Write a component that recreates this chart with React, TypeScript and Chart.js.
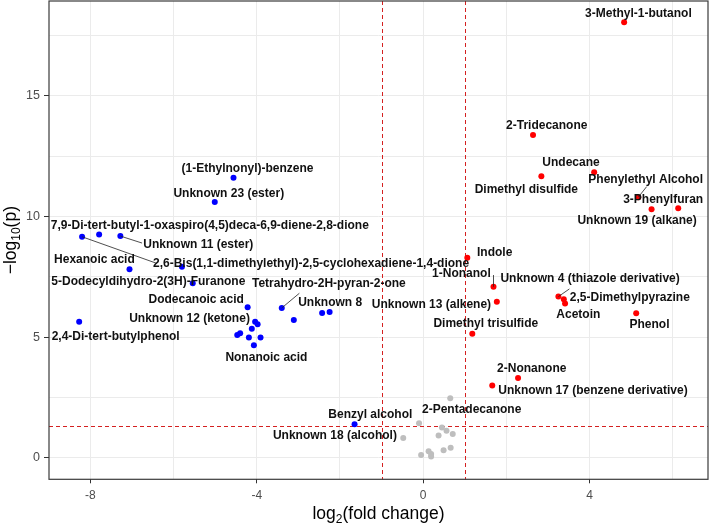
import React, { useEffect, useRef } from 'react';
import { Chart, registerables } from 'chart.js';

Chart.register(...registerables);

// ---- Data: log2(fold change) and -log10(p) ----
const downX = [-4.56, -5.01, -8.2, -7.79, -7.28, -7.06, -5.8, -5.54, -4.22, -3.4, -3.11, -2.43, -2.25, -4.04, -3.98, -4.12, -4.4, -4.47, -4.19, -3.91, -4.07, -8.27, -1.65];
const downY = [11.61, 10.6, 9.16, 9.25, 9.19, 7.81, 7.92, 7.23, 6.24, 6.21, 5.71, 6.0, 6.04, 5.64, 5.53, 5.35, 5.16, 5.09, 4.99, 4.99, 4.66, 5.64, 1.39];
const downNames = [
  '(1-Ethylnonyl)-benzene',
  'Unknown 23 (ester)',
  '2,6-Bis(1,1-dimethylethyl)-2,5-cyclohexadiene-1,4-dione',
  '7,9-Di-tert-butyl-1-oxaspiro(4,5)deca-6,9-diene-2,8-dione',
  'Unknown 11 (ester)',
  'Hexanoic acid',
  '',
  '5-Dodecyldihydro-2(3H)-Furanone',
  'Dodecanoic acid',
  'Tetrahydro-2H-pyran-2-one',
  '',
  '',
  'Unknown 8',
  'Unknown 12 (ketone)',
  '',
  '',
  '',
  '',
  '',
  '',
  'Nonanoic acid',
  '2,4-Di-tert-butylphenol',
  'Benzyl alcohol',
];

const upX = [4.83, 2.64, 4.11, 2.84, 5.17, 5.49, 6.13, 1.06, 1.69, 1.77, 1.18, 3.25, 3.38, 3.41, 5.12, 2.28, 1.66];
const upY = [18.05, 13.38, 11.83, 11.67, 10.8, 10.3, 10.34, 8.29, 7.09, 6.47, 5.14, 6.68, 6.57, 6.4, 5.99, 3.31, 3.0];
const upNames = [
  '3-Methyl-1-butanol',
  '2-Tridecanone',
  'Undecane',
  'Dimethyl disulfide',
  'Phenylethyl Alcohol',
  '3-Phenylfuran',
  'Unknown 19 (alkane)',
  'Indole',
  '1-Nonanol',
  'Unknown 13 (alkene)',
  'Dimethyl trisulfide',
  'Unknown 4 (thiazole derivative)',
  '2,5-Dimethylpyrazine',
  'Acetoin',
  'Phenol',
  '2-Nonanone',
  'Unknown 17 (benzene derivative)',
];

const nsX = [0.65, -0.1, 0.45, 0.56, 0.71, 0.37, -0.48, 0.66, 0.49, 0.13, -0.05, 0.19, 0.19];
const nsY = [2.47, 1.43, 1.26, 1.12, 0.99, 0.93, 0.82, 0.42, 0.31, 0.27, 0.12, 0.05, 0.16];
const nsNames = ['2-Pentadecanone', '', '', '', '', '', 'Unknown 18 (alcohol)', '', '', '', '', '', ''];

// thresholds
const fcCut = [-1, 1];
const pCut = -Math.log10(0.05);

// axis ticks
const xTicks = [-8, -6, -4, -2, 0, 2, 4, 6];
const xLabelTicks = [-8, -4, 0, 4];
const yTicks = [0, 2.5, 5, 7.5, 10, 12.5, 15, 17.5];
const yLabelTicks = [0, 5, 10, 15];

// ---- Label layout (pixel offsets from point: label centre dx,dy; optional segment end sx,sy) ----
const LABEL_LAYOUT: Record<string, number[]> = {
  '(1-Ethylnonyl)-benzene': [14, -8.7],
  'Unknown 23 (ester)': [14, -8.7],
  '7,9-Di-tert-butyl-1-oxaspiro(4,5)deca-6,9-diene-2,8-dione': [110.7, -8.7],
  'Unknown 11 (ester)': [78, 9, 21.7, 7],
  'Hexanoic acid': [-35.1, -9.3],
  '2,6-Bis(1,1-dimethylethyl)-2,5-cyclohexadiene-1,4-dione': [229, 27.3, 74.7, 26.6],
  '5-Dodecyldihydro-2(3H)-Furanone': [-44.4, -1.6],
  'Dodecanoic acid': [-51.5, -8],
  'Tetrahydro-2H-pyran-2-one': [47.1, -24.7, 17.6, -14.7],
  'Unknown 8': [0.6, -9.5],
  'Unknown 12 (ketone)': [-65.6, -3.4],
  'Nonanoic acid': [12.5, 12],
  '2,4-Di-tert-butylphenol': [36.5, 15],
  'Benzyl alcohol': [15.8, -9.3],
  'Unknown 18 (alcohol)': [-68.3, -2.3],
  '2-Pentadecanone': [21.4, 11.7],
  '3-Methyl-1-butanol': [14.3, -9],
  '2-Tridecanone': [13.7, -9.3],
  'Undecane': [-23.2, -10],
  'Dimethyl disulfide': [-15, 13],
  'Phenylethyl Alcohol': [7.4, -17.3, 8.4, -10.6],
  '3-Phenylfuran': [11.6, -10],
  'Unknown 19 (alkane)': [-41.1, 12.4],
  'Indole': [27.4, -5],
  '1-Nonanol': [-32.1, -13.4, 0, -11.7],
  'Unknown 13 (alkene)': [-65.4, 3.3],
  'Dimethyl trisulfide': [13.5, -9.7],
  'Unknown 4 (thiazole derivative)': [31.7, -18.4, 11, -7.7],
  '2,5-Dimethylpyrazine': [66, -2],
  'Acetoin': [13.3, 11.7],
  'Phenol': [13.3, 11.7],
  '2-Nonanone': [13.7, -9],
  'Unknown 17 (benzene derivative)': [100.7, 5.4],
};

const FONT = '"Liberation Sans", Arial, Helvetica, sans-serif';

const toPoints = (xs: number[], ys: number[], names: string[]) =>
  xs.map((x, i) => ({ x, y: ys[i], name: names[i] }));

const refLinesPlugin = {
  id: 'refLines',
  beforeDatasetsDraw(chart: any) {
    const { ctx, chartArea, scales } = chart;
    ctx.save();
    ctx.strokeStyle = '#d42020';
    ctx.lineWidth = 1;
    ctx.setLineDash([4, 3]);
    fcCut.forEach((v) => {
      const px = Math.round(scales.x.getPixelForValue(v)) + 0.5;
      ctx.beginPath();
      ctx.moveTo(px, chartArea.top);
      ctx.lineTo(px, chartArea.bottom);
      ctx.stroke();
    });
    const py = Math.round(scales.y.getPixelForValue(pCut)) + 0.5;
    ctx.beginPath();
    ctx.moveTo(chartArea.left, py);
    ctx.lineTo(chartArea.right, py);
    ctx.stroke();
    ctx.restore();
  },
};

const labelsPlugin = {
  id: 'pointLabels',
  afterDatasetsDraw(chart: any) {
    const { ctx, scales } = chart;
    ctx.save();
    ctx.font = `bold 12px ${FONT}`;
    ctx.textAlign = 'center';
    ctx.textBaseline = 'middle';
    chart.data.datasets.forEach((ds: any) => {
      ds.data.forEach((p: any) => {
        if (!p.name) return;
        const lay = LABEL_LAYOUT[p.name];
        if (!lay) return;
        const px = scales.x.getPixelForValue(p.x);
        const py = scales.y.getPixelForValue(p.y);
        if (lay.length >= 4) {
          ctx.strokeStyle = '#222';
          ctx.lineWidth = 0.8;
          ctx.beginPath();
          ctx.moveTo(px, py);
          ctx.lineTo(px + lay[2], py + lay[3]);
          ctx.stroke();
        }
        ctx.fillStyle = '#111';
        ctx.fillText(p.name, px + lay[0], py + lay[1]);
      });
    });
    ctx.restore();
  },
};

const frameTitlesPlugin = {
  id: 'frameTitles',
  afterDraw(chart: any) {
    const { ctx, chartArea } = chart;
    ctx.save();
    // panel border
    ctx.strokeStyle = '#3a3a3a';
    ctx.lineWidth = 1.2;
    ctx.strokeRect(chartArea.left, chartArea.top, chartArea.right - chartArea.left, chartArea.bottom - chartArea.top);

    ctx.fillStyle = '#000';
    ctx.textBaseline = 'alphabetic';
    ctx.textAlign = 'left';
    const big = `17.5px ${FONT}`;
    const small = `12px ${FONT}`;
    const drawSub = (parts: [string, boolean][], cx: number, baseY: number) => {
      let total = 0;
      parts.forEach(([t, sub]) => {
        ctx.font = sub ? small : big;
        total += ctx.measureText(t).width;
      });
      let x = cx - total / 2;
      parts.forEach(([t, sub]) => {
        ctx.font = sub ? small : big;
        ctx.fillText(t, x, baseY + (sub ? 4 : 0));
        x += ctx.measureText(t).width;
      });
    };
    // x title: log2(fold change)
    const cxX = (chartArea.left + chartArea.right) / 2;
    drawSub([['log', false], ['2', true], ['(fold change)', false]], cxX, 519);

    // y title: -log10(p)
    ctx.save();
    ctx.translate(16, (chartArea.top + chartArea.bottom) / 2);
    ctx.rotate(-Math.PI / 2);
    drawSub([['\u2212log', false], ['10', true], ['(p)', false]], 0, 0);
    ctx.restore();
    ctx.restore();
  },
};

export default function App() {
  const ref = useRef<HTMLCanvasElement | null>(null);
  useEffect(() => {
    if (!ref.current) return;
    const chart = new Chart(ref.current, {
      type: 'scatter',
      data: {
        datasets: [
          { label: 'Up', data: toPoints(upX, upY, upNames), backgroundColor: '#ff0000', borderWidth: 0, pointRadius: 3 },
          { label: 'Down', data: toPoints(downX, downY, downNames), backgroundColor: '#0000ff', borderWidth: 0, pointRadius: 3 },
          { label: 'NS', data: toPoints(nsX, nsY, nsNames), backgroundColor: '#bebebe', borderWidth: 0, pointRadius: 3 },
        ],
      },
      options: {
        responsive: false,
        animation: false,
        devicePixelRatio: 1,
        events: [],
        layout: { autoPadding: false, padding: { top: 1, right: 1, left: 0, bottom: 0 } },
        plugins: { legend: { display: false }, tooltip: { enabled: false } },
        scales: {
          x: {
            type: 'linear',
            min: -8.995,
            max: 6.846,
            afterBuildTicks: (scale: any) => {
              scale.ticks = xTicks.map((v) => ({ value: v }));
            },
            afterFit: (scale: any) => {
              scale.height = 45.7;
              scale.paddingLeft = 0;
              scale.paddingRight = 0;
              scale.paddingTop = 0;
              scale.paddingBottom = 0;
            },
            border: { display: false },
            grid: {
              color: '#ebebeb',
              lineWidth: 1,
              tickLength: 4,
              tickColor: (c: any) => (xLabelTicks.includes(c.tick?.value) ? '#333333' : 'rgba(0,0,0,0)'),
            },
            ticks: {
              autoSkip: false,
              maxRotation: 0,
              padding: 5,
              color: '#4d4d4d',
              font: { family: FONT, size: 12 },
              callback: (v: any) => (xLabelTicks.includes(Number(v)) ? String(v) : ''),
            },
          },
          y: {
            type: 'linear',
            min: -0.89,
            max: 18.93,
            afterBuildTicks: (scale: any) => {
              scale.ticks = yTicks.map((v) => ({ value: v }));
            },
            afterFit: (scale: any) => {
              scale.width = 49;
              scale.paddingLeft = 0;
              scale.paddingRight = 0;
              scale.paddingTop = 0;
              scale.paddingBottom = 0;
            },
            border: { display: false },
            grid: {
              color: '#ebebeb',
              lineWidth: 1,
              tickLength: 5,
              tickColor: (c: any) => (yLabelTicks.includes(c.tick?.value) ? '#333333' : 'rgba(0,0,0,0)'),
            },
            ticks: {
              autoSkip: false,
              padding: 4,
              color: '#4d4d4d',
              font: { family: FONT, size: 12.5 },
              callback: (v: any) => (yLabelTicks.includes(Number(v)) ? String(v) : ''),
            },
          },
        },
      },
      plugins: [refLinesPlugin, labelsPlugin, frameTitlesPlugin],
    } as any);
    return () => chart.destroy();
  }, []);

  return (
    <div style={{ position: 'fixed', left: 0, top: 0, width: 709, height: 525, background: '#fff' }}>
      <canvas ref={ref} width={709} height={525} style={{ width: 709, height: 525, display: 'block' }} />
    </div>
  );
}
